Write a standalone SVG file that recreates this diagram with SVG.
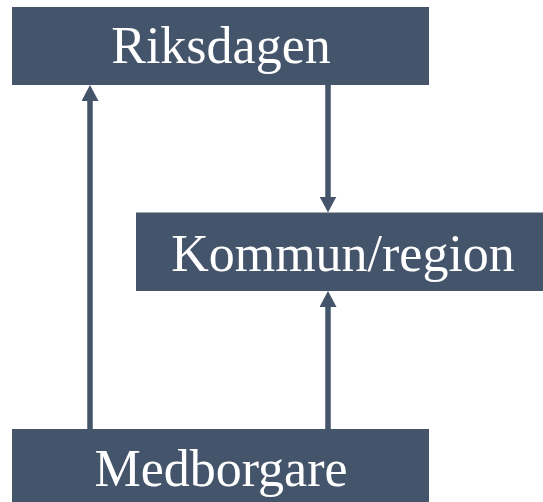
<svg xmlns="http://www.w3.org/2000/svg" width="543" height="502" viewBox="0 0 543 502">
  <style>
    .box { fill: #44546A; }
    .label { fill: #FFFFFF; font-family: "Liberation Serif", "DejaVu Serif", serif; font-size: 52px; text-anchor: middle; }
    .conn { stroke: #44546A; stroke-width: 5.5; fill: none; marker-end: url(#arrow); }
  </style>
  <defs>
    <marker id="arrow" viewBox="0 0 16 17" refX="2" refY="8.5" markerWidth="16" markerHeight="17" markerUnits="userSpaceOnUse" orient="auto">
      <path d="M0,0 L16,8.5 L0,17 Z" fill="#44546A"/>
    </marker>
  </defs>
  <rect width="543" height="502" fill="#FFFFFF"/>
  <g id="connectors">
    <line class="conn" x1="90" y1="429" x2="90" y2="99"/>
    <line class="conn" x1="328" y1="85" x2="328" y2="198.5"/>
    <line class="conn" x1="328" y1="429" x2="328" y2="305"/>
  </g>
  <g id="riksdagen">
    <rect class="box" x="12" y="7" width="417" height="78"/>
    <text class="label" x="221" y="63">Riksdagen</text>
  </g>
  <g id="kommun">
    <rect class="box" x="136" y="212.5" width="407" height="78.5"/>
    <text class="label" x="343" y="271">Kommun/region</text>
  </g>
  <g id="medborgare">
    <rect class="box" x="12" y="429" width="417" height="73"/>
    <text class="label" x="221" y="486">Medborgare</text>
  </g>
</svg>
